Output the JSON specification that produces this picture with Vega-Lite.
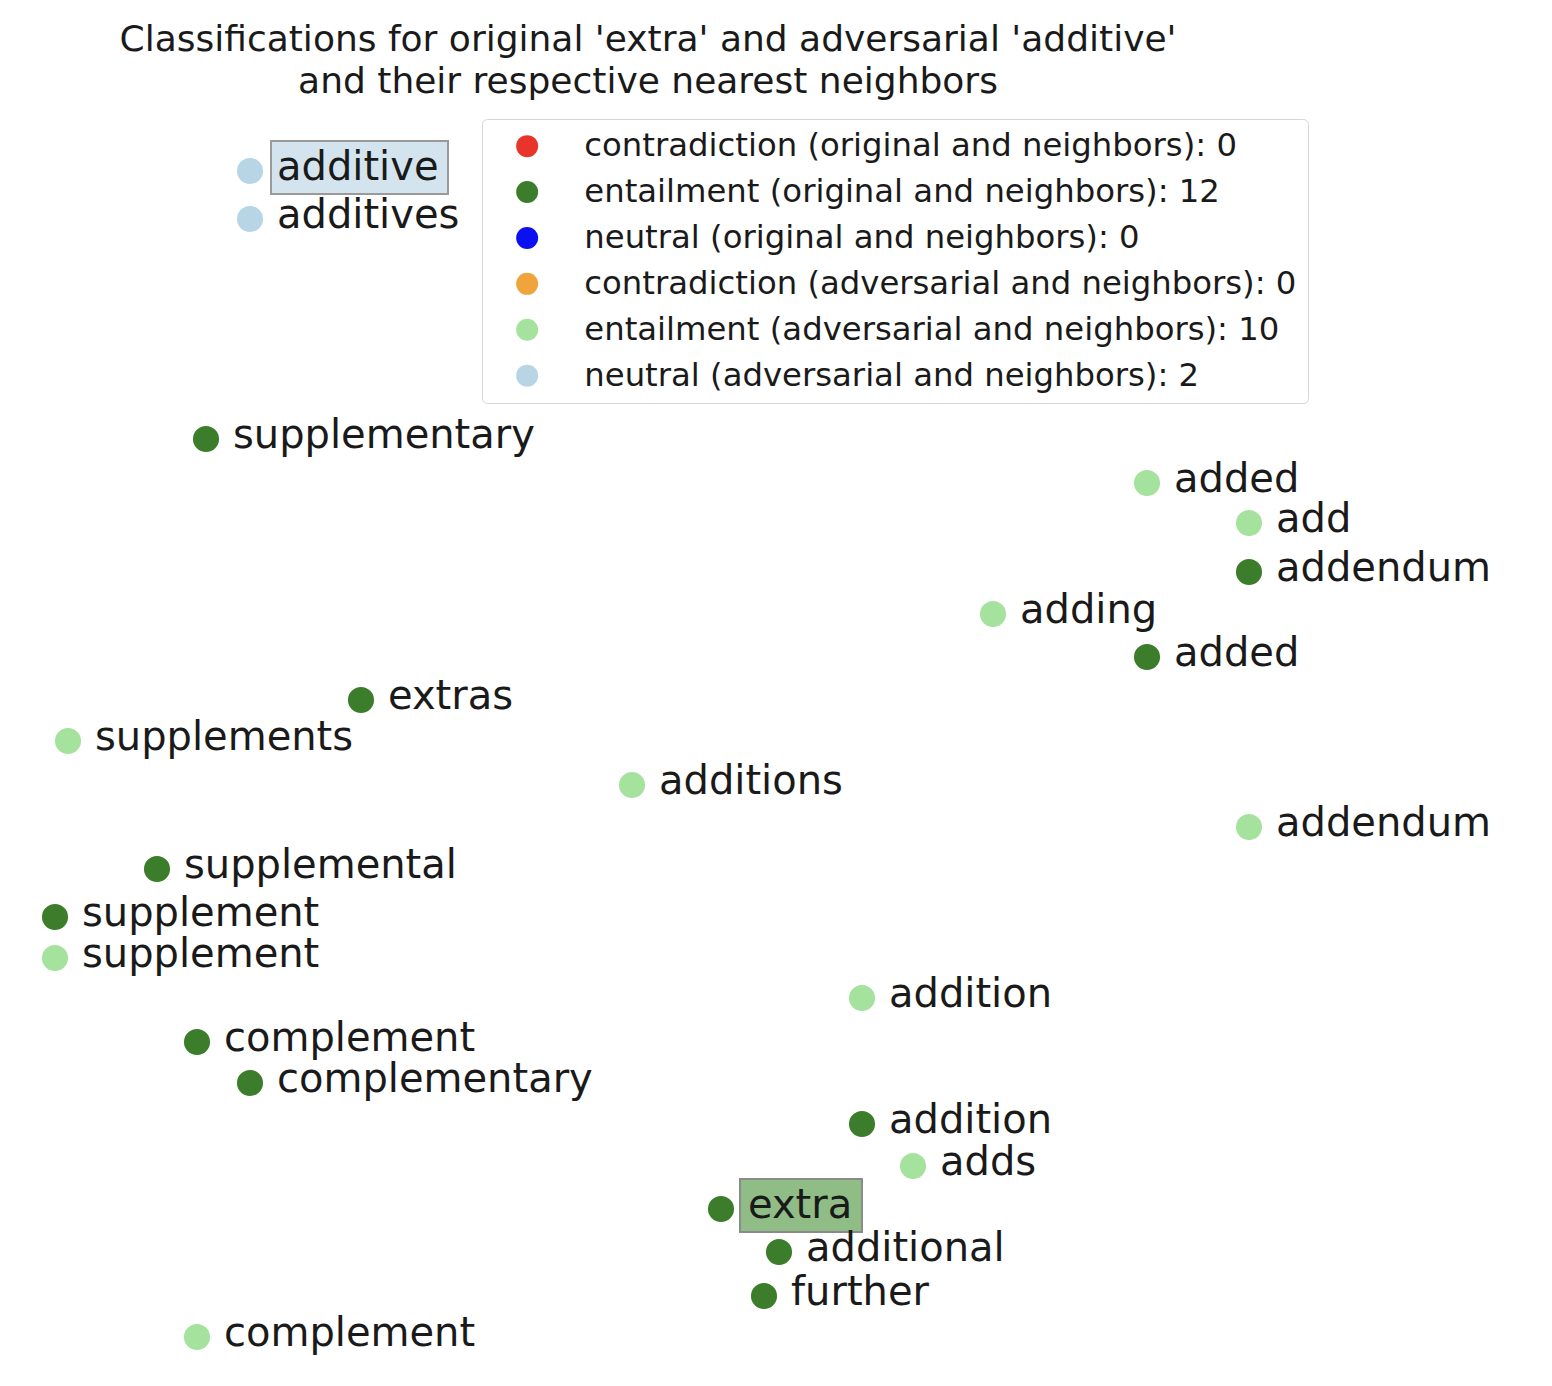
{
  "$schema": "https://vega.github.io/schema/vega-lite/v6.json",
  "autosize": {"type": "none"},
  "padding": {"top": 110, "left": 0, "right": 0, "bottom": 0},
  "width": 1552,
  "height": 1276,
  "background": "white",
  "title": {
    "text": ["Classifications for original 'extra' and adversarial 'additive'", "and their respective nearest neighbors"],
    "font": "DejaVu Sans",
    "fontSize": 36,
    "fontWeight": "normal",
    "color": "#1a1a1a",
    "anchor": "middle",
    "frame": "group",
    "dx": -128,
    "offset": 9,
    "lineHeight": 42
  },
  "data": {
    "values": [
      {"word": "additive", "x": 250, "y": 171, "group": "neutral (adversarial and neighbors): 2"},
      {"word": "additives", "x": 250, "y": 219, "group": "neutral (adversarial and neighbors): 2"},
      {"word": "supplementary", "x": 206, "y": 439, "group": "entailment (original and neighbors): 12"},
      {"word": "added", "x": 1147, "y": 483, "group": "entailment (adversarial and neighbors): 10"},
      {"word": "add", "x": 1249, "y": 523, "group": "entailment (adversarial and neighbors): 10"},
      {"word": "addendum", "x": 1249, "y": 572, "group": "entailment (original and neighbors): 12"},
      {"word": "adding", "x": 993, "y": 614, "group": "entailment (adversarial and neighbors): 10"},
      {"word": "added", "x": 1147, "y": 657, "group": "entailment (original and neighbors): 12"},
      {"word": "extras", "x": 361, "y": 700, "group": "entailment (original and neighbors): 12"},
      {"word": "supplements", "x": 68, "y": 741, "group": "entailment (adversarial and neighbors): 10"},
      {"word": "additions", "x": 632, "y": 785, "group": "entailment (adversarial and neighbors): 10"},
      {"word": "addendum", "x": 1249, "y": 827, "group": "entailment (adversarial and neighbors): 10"},
      {"word": "supplemental", "x": 157, "y": 869, "group": "entailment (original and neighbors): 12"},
      {"word": "supplement", "x": 55, "y": 917, "group": "entailment (original and neighbors): 12"},
      {"word": "supplement", "x": 55, "y": 958, "group": "entailment (adversarial and neighbors): 10"},
      {"word": "addition", "x": 862, "y": 998, "group": "entailment (adversarial and neighbors): 10"},
      {"word": "complement", "x": 197, "y": 1042, "group": "entailment (original and neighbors): 12"},
      {"word": "complementary", "x": 250, "y": 1083, "group": "entailment (original and neighbors): 12"},
      {"word": "addition", "x": 862, "y": 1124, "group": "entailment (original and neighbors): 12"},
      {"word": "adds", "x": 913, "y": 1166, "group": "entailment (adversarial and neighbors): 10"},
      {"word": "extra", "x": 721, "y": 1209, "group": "entailment (original and neighbors): 12"},
      {"word": "additional", "x": 779, "y": 1252, "group": "entailment (original and neighbors): 12"},
      {"word": "further", "x": 764, "y": 1296, "group": "entailment (original and neighbors): 12"},
      {"word": "complement", "x": 197, "y": 1337, "group": "entailment (adversarial and neighbors): 10"}
    ]
  },
  "encoding": {
    "x": {"field": "x", "type": "quantitative", "scale": {"domain": [0, 1552], "nice": false, "zero": false}, "axis": null},
    "y": {"field": "y", "type": "quantitative", "scale": {"domain": [110, 1386], "nice": false, "zero": false, "reverse": true}, "axis": null}
  },
  "layer": [
    {
      "mark": {"type": "point", "filled": true, "opacity": 1, "size": 680, "shape": "circle"},
      "encoding": {
        "color": {
          "field": "group",
          "type": "nominal",
          "scale": {
            "domain": [
              "contradiction (original and neighbors): 0",
              "entailment (original and neighbors): 12",
              "neutral (original and neighbors): 0",
              "contradiction (adversarial and neighbors): 0",
              "entailment (adversarial and neighbors): 10",
              "neutral (adversarial and neighbors): 2"
            ],
            "range": ["#e8342b", "#3b7d2a", "#0a10f0", "#f0a43c", "#a5e29d", "#b8d5e6"]
          },
          "legend": {
            "title": null,
            "orient": "none",
            "legendX": 482,
            "legendY": 9,
            "padding": 11,
            "symbolOffset": 18,
            "labelOffset": 41,
            "symbolType": "circle",
            "symbolSize": 484,
            "symbolStrokeWidth": 0,
            "rowPadding": 12.9,
            "labelFont": "DejaVu Sans",
            "labelFontSize": 32.3,
            "labelColor": "#1a1a1a",
            "labelLimit": 2000,
            "strokeColor": "#d6d6d6",
            "fillColor": "white",
            "cornerRadius": 5
          }
        }
      }
    },
    {
      "transform": [{"filter": "datum.word === 'additive'"}],
      "mark": {"type": "rect", "fill": "#d4e4ee", "stroke": "#9a9a9a", "strokeWidth": 2, "xOffset": 21, "x2Offset": 198, "yOffset": -30, "y2Offset": 23},
      "encoding": {"x2": {"field": "x"}, "y2": {"field": "y"}}
    },
    {
      "transform": [{"filter": "datum.word === 'extra'"}],
      "mark": {"type": "rect", "fill": "#8fbd85", "stroke": "#8a8a8a", "strokeWidth": 2, "xOffset": 19, "x2Offset": 141, "yOffset": -30, "y2Offset": 23},
      "encoding": {"x2": {"field": "x"}, "y2": {"field": "y"}}
    },
    {
      "mark": {"type": "text", "align": "left", "baseline": "alphabetic", "dx": 27, "dy": 9, "font": "DejaVu Sans", "fontSize": 40, "color": "#1a1a1a"},
      "encoding": {"text": {"field": "word", "type": "nominal"}}
    }
  ],
  "config": {"view": {"stroke": null}}
}
